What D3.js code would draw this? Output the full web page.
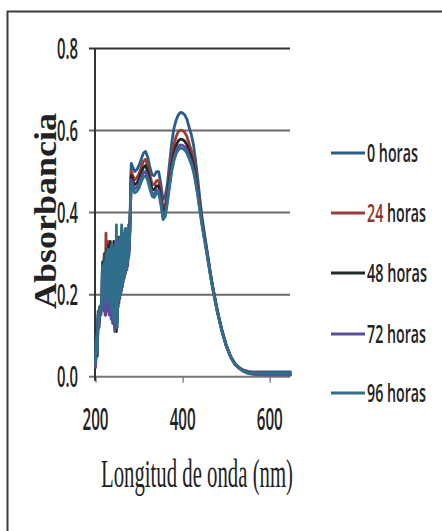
<!DOCTYPE html>
<html>
<head>
<meta charset="utf-8">
<script src="https://cdn.jsdelivr.net/npm/d3@7"></script>
<style>
  html, body { margin: 0; padding: 0; background: #fff; }
  svg { display: block; }
</style>
</head>
<body>
<svg id="chart" width="442" height="531"></svg>
<script>
// Wavelength grid (nm): fine 2 nm steps through the noisy UV region, coarser afterwards
const wavelengths = [
  200,202,204,206,208,210,212,214,216,218,220,222,224,226,228,230,232,234,236,238,
  240,242,244,246,248,250,252,254,256,258,260,262,264,266,268,270,272,274,276,278,280,
  282,284,286,288,290,295,300,305,310,315,320,325,330,335,340,345,350,355,360,365,
  370,375,380,385,390,395,400,405,410,415,420,425,430,435,440,445,450,455,460,465,
  470,475,480,490,500,510,520,530,540,550,560,570,580,600,620,640,650
];

const seriesNames = ["0 horas", "24 horas", "48 horas", "72 horas", "96 horas"];
const seriesColors = ["#2c5c88", "#9a3d3a", "#1f2a24", "#5b4d9e", "#2f6f8c"];

const abs0 = [
  0.04,0.10,0.07,0.16,0.14,0.17,0.165,0.18,0.28,0.20,0.29,0.21,0.30,0.19,0.31,0.21,0.29,0.18,0.32,0.17,
  0.30,0.16,0.31,0.15,0.33,0.14,0.31,0.19,0.34,0.21,0.36,0.23,0.33,0.25,0.36,0.26,0.35,0.28,0.37,0.34,0.42,
  0.52,0.515,0.51,0.505,0.50,0.505,0.515,0.53,0.545,0.549,0.535,0.51,0.492,0.49,0.50,0.50,0.47,0.432,0.44,0.47,
  0.52,0.57,0.605,0.625,0.638,0.644,0.643,0.638,0.627,0.608,0.59,0.565,0.525,0.48,0.43,0.385,0.35,0.315,0.28,0.245,
  0.215,0.188,0.16,0.115,0.078,0.05,0.032,0.022,0.016,0.013,0.012,0.012,0.012,0.012,0.012,0.012,0.012
];
const abs24 = [
  0.03,0.08,0.06,0.14,0.12,0.16,0.15,0.17,0.26,0.17,0.30,0.15,0.35,0.16,0.33,0.18,0.28,0.17,0.30,0.16,
  0.29,0.15,0.30,0.14,0.31,0.13,0.30,0.18,0.33,0.20,0.34,0.22,0.32,0.24,0.35,0.26,0.34,0.27,0.36,0.33,0.41,
  0.50,0.495,0.49,0.485,0.48,0.485,0.495,0.51,0.525,0.53,0.515,0.49,0.47,0.468,0.478,0.478,0.45,0.41,0.418,0.45,
  0.495,0.535,0.565,0.585,0.597,0.601,0.60,0.595,0.585,0.568,0.552,0.53,0.498,0.46,0.418,0.378,0.345,0.312,0.278,0.244,
  0.214,0.187,0.16,0.114,0.077,0.05,0.032,0.022,0.015,0.011,0.01,0.009,0.009,0.008,0.008,0.008,0.008
];
const abs48 = [
  0.03,0.09,0.05,0.15,0.13,0.17,0.16,0.19,0.19,0.28,0.18,0.30,0.17,0.31,0.18,0.32,0.16,0.33,0.15,0.31,
  0.13,0.33,0.12,0.32,0.11,0.30,0.17,0.34,0.20,0.34,0.22,0.35,0.24,0.34,0.25,0.36,0.27,0.35,0.29,0.33,0.40,
  0.49,0.485,0.478,0.472,0.468,0.472,0.482,0.497,0.51,0.515,0.50,0.477,0.458,0.455,0.465,0.465,0.437,0.398,0.405,0.438,
  0.48,0.518,0.545,0.563,0.575,0.579,0.578,0.574,0.565,0.55,0.535,0.515,0.485,0.45,0.41,0.373,0.34,0.308,0.275,0.242,
  0.212,0.185,0.158,0.113,0.076,0.049,0.031,0.021,0.014,0.01,0.008,0.007,0.007,0.006,0.006,0.006,0.006
];
const abs72 = [
  0.02,0.08,0.06,0.14,0.12,0.16,0.15,0.17,0.18,0.26,0.16,0.28,0.15,0.29,0.16,0.30,0.15,0.29,0.14,0.30,
  0.13,0.31,0.11,0.33,0.12,0.31,0.18,0.33,0.19,0.34,0.21,0.33,0.23,0.35,0.25,0.34,0.26,0.35,0.29,0.31,0.40,
  0.48,0.475,0.468,0.462,0.458,0.462,0.47,0.485,0.497,0.50,0.487,0.465,0.447,0.444,0.454,0.454,0.427,0.39,0.397,0.43,
  0.47,0.507,0.533,0.55,0.561,0.565,0.564,0.56,0.552,0.538,0.523,0.505,0.477,0.443,0.405,0.369,0.337,0.306,0.273,0.24,
  0.211,0.184,0.157,0.112,0.075,0.048,0.03,0.02,0.013,0.008,0.006,0.005,0.005,0.004,0.004,0.004,0.004
];
const abs96 = [
  0.03,0.09,0.06,0.15,0.14,0.17,0.16,0.18,0.27,0.20,0.28,0.19,0.30,0.18,0.31,0.20,0.31,0.17,0.32,0.16,
  0.31,0.14,0.32,0.13,0.37,0.12,0.32,0.19,0.34,0.20,0.37,0.22,0.34,0.24,0.36,0.26,0.36,0.28,0.36,0.33,0.41,
  0.47,0.465,0.458,0.452,0.448,0.452,0.46,0.475,0.487,0.49,0.478,0.457,0.44,0.437,0.447,0.447,0.42,0.383,0.39,0.423,
  0.463,0.5,0.526,0.543,0.553,0.557,0.556,0.552,0.545,0.532,0.518,0.5,0.472,0.44,0.402,0.366,0.335,0.304,0.272,0.239,
  0.21,0.183,0.156,0.112,0.076,0.049,0.031,0.021,0.014,0.01,0.009,0.008,0.008,0.008,0.008,0.008,0.008
];
const seriesValues = [abs0, abs24, abs48, abs72, abs96];

const xTicks = [200, 400, 600];
const yTicks = [0.0, 0.2, 0.4, 0.6, 0.8];
const xTitle = "Longitud de onda (nm)";
const yTitle = "Absorbancia";

const svg = d3.select("#chart");

// squeeze a text horizontally so it spans the wanted width (condensed look)
function condense(sel, width, anchorX, anchorY, rotate) {
  sel.each(function() {
    const natural = this.getComputedTextLength();
    const sx = width / natural;
    const rot = rotate ? ` rotate(${rotate})` : "";
    d3.select(this).attr("x", 0).attr("y", 0)
      .attr("transform", `translate(${anchorX},${anchorY})${rot} scale(${sx},1)`);
  });
}

// outer frame of the figure
svg.append("rect")
  .attr("x", 7.5).attr("y", 11.5)
  .attr("width", 460).attr("height", 540)
  .attr("fill", "none").attr("stroke", "#3a3a3a").attr("stroke-width", 2);

const x = d3.scaleLinear().domain([200, 650]).range([95.5, 291.5]);
const y = d3.scaleLinear().domain([0, 0.8]).range([376.7, 48.5]);

// horizontal gridlines
svg.append("g").selectAll("line")
  .data(yTicks.filter(d => d > 0))
  .join("line")
  .attr("x1", 89).attr("x2", 290)
  .attr("y1", d => y(d)).attr("y2", d => y(d))
  .attr("stroke", d => d === 0.8 ? "#333" : "#6a6a6a")
  .attr("stroke-width", 2);

// x axis baseline with downward ticks
const xAxis = d3.axisBottom(x).tickValues(xTicks).tickSize(6).tickFormat("");
const gx = svg.append("g").attr("transform", `translate(0,${y(0)})`).call(xAxis);
gx.select(".domain").attr("d", `M89,0H290`).attr("stroke", "#777").attr("stroke-width", 2);
gx.selectAll(".tick line").attr("stroke", "#6a7a8a").attr("stroke-width", 1.3);

// y axis line
svg.append("line")
  .attr("x1", 95).attr("x2", 95)
  .attr("y1", y(0.8)).attr("y2", y(0) + 4)
  .attr("stroke", "#333").attr("stroke-width", 2);

// spectra
const line = d3.line()
  .x((d, i) => x(wavelengths[i]))
  .y(d => y(d));

svg.append("g").selectAll("path")
  .data(seriesValues)
  .join("path")
  .attr("d", d => line(d))
  .attr("fill", "none")
  .attr("stroke", (d, i) => seriesColors[i])
  .attr("stroke-width", 2.8)
  .attr("stroke-linejoin", "round");

// tick labels
const tickFont = "'Open Sans', 'Noto Sans', sans-serif";
svg.append("g").selectAll("text")
  .data(yTicks)
  .join("text")
  .attr("text-anchor", "end")
  .attr("font-family", tickFont).attr("font-weight", 600)
  .attr("font-size", 29).attr("fill", "#222")
  .text(d => d.toFixed(1))
  .each(function(d) { condense(d3.select(this), 21, 78, y(d) + 10); });

svg.append("g").selectAll("text")
  .data(xTicks)
  .join("text")
  .attr("text-anchor", "middle")
  .attr("font-family", tickFont).attr("font-weight", 600)
  .attr("font-size", 31).attr("fill", "#222")
  .text(d => d)
  .each(function(d) { condense(d3.select(this), 26, x(d), 430); });

// axis titles
svg.append("text")
  .attr("text-anchor", "middle")
  .attr("font-family", "'Liberation Serif', 'DejaVu Serif', serif")
  .attr("font-weight", "bold").attr("font-size", 31).attr("fill", "#222")
  .text(yTitle)
  .call(s => condense(s, 196, 56, 211, -90));

svg.append("text")
  .attr("text-anchor", "middle")
  .attr("font-family", "'Liberation Serif', 'DejaVu Serif', serif")
  .attr("font-size", 40).attr("fill", "#222")
  .text(xTitle)
  .call(s => condense(s, 192, 197, 487));

// legend
const legendY = [153, 213, 273, 334, 393];
const legendW = [51, 59, 60, 59, 59];
const lg = svg.append("g").selectAll("g")
  .data(seriesNames)
  .join("g")
  .attr("transform", (d, i) => `translate(0,${legendY[i]})`);

lg.append("line")
  .attr("x1", 331).attr("x2", 365)
  .attr("stroke", (d, i) => seriesColors[i])
  .attr("stroke-width", 3);

lg.append("text")
  .attr("font-family", tickFont).attr("font-weight", 600)
  .attr("font-size", 26).attr("fill", "#222")
  .each(function(d, i) {
    const parts = d.split(" ");
    const t = d3.select(this);
    t.append("tspan").attr("fill", parts[0] === "24" ? "#8a3530" : "#222").text(parts[0]);
    t.append("tspan").text(" " + parts[1]);
    condense(t, legendW[i], 367, 9);
  });
</script>
</body>
</html>
